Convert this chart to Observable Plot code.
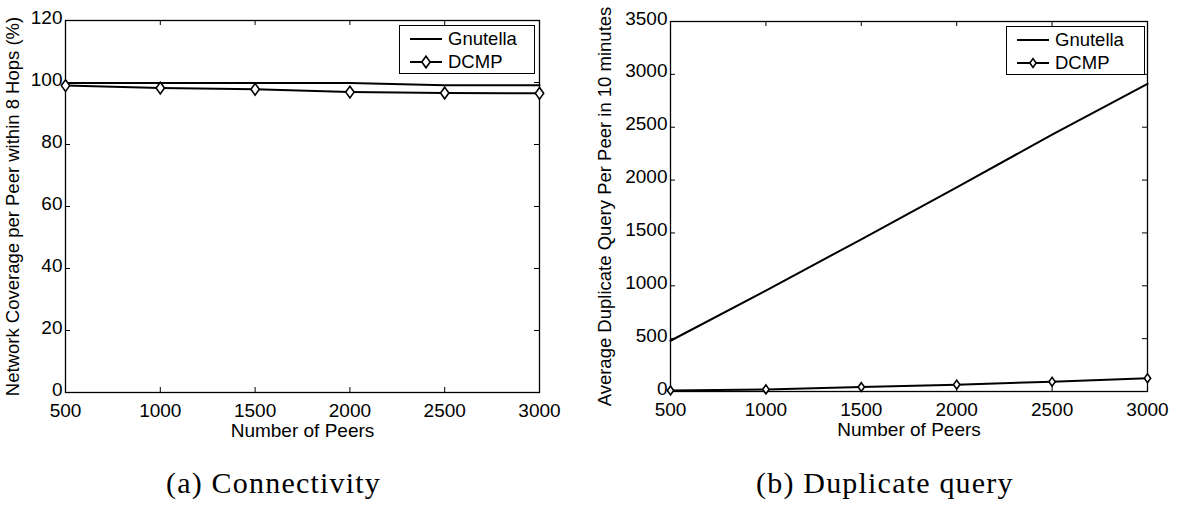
<!DOCTYPE html>
<html>
<head>
<meta charset="utf-8">
<script src="https://cdn.jsdelivr.net/npm/d3@7"></script>
<script src="https://cdn.jsdelivr.net/npm/@observablehq/plot@0.6"></script>
<style>
  html, body { margin: 0; padding: 0; background: #fff; }
  #wrap { position: relative; width: 1184px; height: 513px; overflow: hidden; background: #fff; font-family: "Liberation Sans", Arial, sans-serif; }
  .panel { position: absolute; top: 0; }
  .caption { position: absolute; font-family: "Liberation Serif", "Times New Roman", serif; font-size: 30px; letter-spacing: 1.2px; line-height: 1; color: #000; white-space: nowrap; }
  .legend { position: absolute; background: #fff; border: 1px solid #000; box-sizing: border-box; font-size: 18.5px; color: #000; }
  .legend .row { position: absolute; left: 0; height: 20px; display: flex; align-items: center; }
  .legend svg { display: block; }
  .legend span { margin-left: 6px; line-height: 1; }
</style>
</head>
<body>
<div id="wrap"></div>
<script>
// ---- data ----
const peers = [500, 1000, 1500, 2000, 2500, 3000];
const gnutellaCoverage = [99.8, 99.8, 99.8, 99.8, 99.1, 99.1];
const dcmpCoverage = [99.0, 98.2, 97.8, 96.9, 96.6, 96.5];
const gnutellaDuplicate = [480, 955, 1440, 1930, 2430, 2910];
const dcmpDuplicate = [10, 20, 42, 65, 92, 125];
const seriesNames = ["Gnutella", "DCMP"];
const xTicks = [500, 1000, 1500, 2000, 2500, 3000];
const yTicksCoverage = [0, 20, 40, 60, 80, 100, 120];
const yTicksDuplicate = [0, 500, 1000, 1500, 2000, 2500, 3000, 3500];
const xLabel = "Number of Peers";
const yLabelCoverage = "Network Coverage per Peer within 8 Hops (%)";
const yLabelDuplicate = "Average Duplicate Query Per Peer in 10 minutes";
const captions = ["(a) Connectivity", "(b) Duplicate query"];

// narrow diamond marker (MATLAB 'd')
const narrowDiamond = {
  draw(context, size) {
    const r = Math.sqrt(size / Math.PI);
    const w = r * 0.72;
    context.moveTo(0, -r);
    context.lineTo(w, 0);
    context.lineTo(0, r);
    context.lineTo(-w, 0);
    context.closePath();
  }
};

const wrap = document.getElementById("wrap");
const PW = 592, PH = 440;

function makePanel({left, mL, mR, mT, mB, yDomain, yTicks, gValues, dValues, yLabel, yLabelOffset, dotR, dotSW}) {
  const gData = peers.map((p, i) => ({x: p, y: gValues[i]}));
  const dData = peers.map((p, i) => ({x: p, y: dValues[i]}));
  const innerW = PW - mL - mR, innerH = PH - mT - mB;
  const tick = 5;
  const chart = Plot.plot({
    width: PW, height: PH,
    marginLeft: mL, marginRight: mR, marginTop: mT, marginBottom: mB,
    style: {fontFamily: "Liberation Sans, Arial, sans-serif", fontSize: "18.5px", color: "#000", background: "transparent", overflow: "visible"},
    x: {domain: [500, 3000]},
    y: {domain: yDomain},
    marks: [
      Plot.axisX({ticks: xTicks, tickSize: 0, tickPadding: 11, tickFormat: d3.format("d"), fontSize: 19,
        label: xLabel, labelAnchor: "center", labelArrow: "none", labelOffset: 44}),
      Plot.axisY({ticks: yTicks, tickSize: 0, tickPadding: 3, dy: -3, tickFormat: d3.format("d"), fontSize: 19,
        label: null}),
      Plot.axisY({ticks: [], tickSize: 0,
        label: yLabel, labelAnchor: "center", labelArrow: "none", labelOffset: yLabelOffset}),
      // inward ticks on all four sides
      Plot.tickX(xTicks, {x: d => d, stroke: "#000", strokeWidth: 1, insetTop: innerH - tick}),
      Plot.tickX(xTicks, {x: d => d, stroke: "#000", strokeWidth: 1, insetBottom: innerH - tick}),
      Plot.tickY(yTicks, {y: d => d, stroke: "#000", strokeWidth: 1, insetRight: innerW - tick}),
      Plot.tickY(yTicks, {y: d => d, stroke: "#000", strokeWidth: 1, insetLeft: innerW - tick}),
      Plot.frame({stroke: "#000", strokeWidth: 1.3}),
      Plot.line(gData, {x: "x", y: "y", stroke: "#000", strokeWidth: 2}),
      Plot.line(dData, {x: "x", y: "y", stroke: "#000", strokeWidth: 2}),
      Plot.dot(dData, {x: "x", y: "y", symbol: narrowDiamond, r: dotR, fill: "#fff", stroke: "#000", strokeWidth: dotSW})
    ]
  });
  chart.classList.add("panel");
  chart.style.left = left + "px";
  wrap.appendChild(chart);
}

makePanel({left: 0, mL: 65, mR: PW - 539, mT: 20, mB: PH - 392,
  yDomain: [0, 120], yTicks: yTicksCoverage, gValues: gnutellaCoverage, dValues: dcmpCoverage,
  yLabel: yLabelCoverage, yLabelOffset: 60, dotR: 5.8, dotSW: 1.6});
makePanel({left: 592, mL: 670 - 592, mR: PW - (1147 - 592), mT: 21, mB: PH - 391,
  yDomain: [0, 3500], yTicks: yTicksDuplicate, gValues: gnutellaDuplicate, dValues: dcmpDuplicate,
  yLabel: yLabelDuplicate, yLabelOffset: 73, dotR: 4.4, dotSW: 1.6});

// legends
function makeLegend(left, top, width, height, dotR) {
  const lg = document.createElement("div");
  lg.className = "legend";
  lg.style.left = left + "px"; lg.style.top = top + "px";
  lg.style.width = width + "px"; lg.style.height = height + "px";
  seriesNames.forEach((name, i) => {
    const row = document.createElement("div");
    row.className = "row";
    row.style.top = (i === 0 ? 3 : 26) + "px";
    row.style.left = "10px";
    const ns = "http://www.w3.org/2000/svg";
    const svg = document.createElementNS(ns, "svg");
    svg.setAttribute("width", 32); svg.setAttribute("height", 20);
    const ln = document.createElementNS(ns, "line");
    ln.setAttribute("x1", 0); ln.setAttribute("x2", 32); ln.setAttribute("y1", 10); ln.setAttribute("y2", 10);
    ln.setAttribute("stroke", "#000"); ln.setAttribute("stroke-width", 2);
    svg.appendChild(ln);
    if (i === 1) {
      const w = dotR * 0.72;
      const p = document.createElementNS(ns, "path");
      p.setAttribute("d", `M16,${10 - dotR}L${16 + w},10L16,${10 + dotR}L${16 - w},10Z`);
      p.setAttribute("fill", "#fff"); p.setAttribute("stroke", "#000"); p.setAttribute("stroke-width", 1.6);
      svg.appendChild(p);
    }
    row.appendChild(svg);
    const t = document.createElement("span");
    t.textContent = name;
    row.appendChild(t);
    lg.appendChild(row);
  });
  wrap.appendChild(lg);
}
makeLegend(399, 25, 136, 49, 5.8);
makeLegend(1006, 26, 139, 49, 4.4);

// captions
[[166, captions[0]], [756, captions[1]]].forEach(([x, txt]) => {
  const c = document.createElement("div");
  c.className = "caption";
  c.style.left = x + "px"; c.style.top = "468px";
  c.textContent = txt;
  wrap.appendChild(c);
});
</script>
</body>
</html>
